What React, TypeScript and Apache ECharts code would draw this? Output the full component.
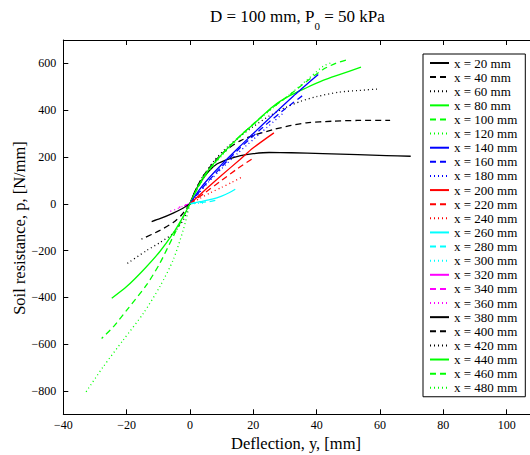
import React, { useEffect, useRef } from 'react';
import * as echarts from 'echarts';

// Depth labels (legend)
const depthLabels = [
  'x = 20 mm', 'x = 40 mm', 'x = 60 mm', 'x = 80 mm', 'x = 100 mm', 'x = 120 mm',
  'x = 140 mm', 'x = 160 mm', 'x = 180 mm', 'x = 200 mm', 'x = 220 mm', 'x = 240 mm',
  'x = 260 mm', 'x = 280 mm', 'x = 300 mm', 'x = 320 mm', 'x = 340 mm', 'x = 360 mm',
  'x = 380 mm', 'x = 400 mm', 'x = 420 mm', 'x = 440 mm', 'x = 460 mm', 'x = 480 mm',
];

// p-y curves: [deflection y (mm), soil resistance p (N/mm)]
const x20 = [[0, 0], [1.5, 50], [3.5, 96], [6, 140], [8.5, 170], [12.4, 192], [16, 206], [20, 214], [25, 219], [32, 218], [42, 214], [53, 210], [62, 206], [69.7, 203]];
const x40 = [[0, 0], [2, 65], [4, 115], [8, 185], [12, 235], [16, 270], [20, 292], [26.3, 317], [32, 335], [36.8, 346], [45, 353], [53, 356], [63.2, 356]];
const x60 = [[0, 0], [2, 65], [4, 115], [8, 190], [12, 245], [16, 290], [20, 330], [25, 375], [30, 410], [35, 438], [40, 458], [47, 477], [53, 484], [59.7, 491]];
const x80 = [[0, 0], [2, 60], [5, 130], [10, 210], [15.8, 289], [20, 340], [26.3, 417], [31.5, 462], [36.8, 496], [42, 527], [47.4, 553], [54, 584]];
const x100 = [[0, 0], [2, 55], [5, 125], [10, 210], [15, 280], [21, 353], [26, 410], [31.6, 467], [37, 525], [42.1, 575], [46, 600], [50, 617]];
const x120 = [[0, 0], [2, 55], [5, 122], [10, 205], [15, 276], [21, 350], [26, 408], [31.6, 468], [37, 530], [42.1, 588], [44.7, 603]];
const x140 = [[0, 0], [3, 60], [6, 110], [10, 168], [15.8, 246], [20, 300], [26.3, 381], [32.6, 460], [36, 500], [40.5, 553]];
const x160 = [[0, 0], [3, 52], [6, 100], [10, 158], [15, 228], [20, 290], [25, 350], [30, 405], [35.5, 462]];
const x180 = [[0, 0], [3, 48], [6, 95], [10, 150], [15, 215], [20, 275], [24.2, 325], [29.5, 388]];
const x200 = [[0, 0], [5, 62], [10, 122], [15.8, 189], [19.8, 237], [26.5, 303]];
const x220 = [[0, 0], [5, 50], [10, 100], [15, 150], [20.2, 197]];
const x240 = [[0, 0], [3, 22], [6.3, 46], [10, 70], [13, 90], [16.8, 117]];
const x260 = [[0, 0], [3.2, 9], [7, 20], [10, 33], [12.5, 48], [14.3, 62]];
const x280 = [[0, 0], [3, 5], [6, 9], [8, 14]];
const x300 = [[0, 0], [2.5, 2], [5, 4]];
const x320 = [[0, 0], [-1.5, -6]];
const x340 = [[0, 0], [-3.5, -15]];
const x360 = [[0, 0], [-2.5, -12], [-4.5, -24], [-6.8, -35]];
const x380 = [[0, 0], [-2.1, -18], [-5.3, -40], [-9.5, -64], [-12.1, -76]];
const x400 = [[0, 0], [-2.6, -47], [-5.3, -80], [-9.5, -114], [-15.3, -151]];
const x420 = [[0, 0], [-2.1, -69], [-5.3, -126], [-9.5, -166], [-13.7, -200], [-20, -257]];
const x440 = [[0, 0], [-2.1, -54], [-5.3, -126], [-9.5, -204], [-14.7, -283], [-20, -354], [-24.7, -404]];
const x460 = [[0, 0], [-5.3, -140], [-9.5, -254], [-13.7, -347], [-19.5, -447], [-24.2, -526], [-27.9, -576]];
const x480 = [[0, 0], [-2.1, -111], [-5.3, -240], [-9.5, -354], [-14.7, -468], [-21.1, -583], [-27.4, -697], [-32.8, -804]];

const curves = [x20, x40, x60, x80, x100, x120, x140, x160, x180, x200, x220, x240,
  x260, x280, x300, x320, x340, x360, x380, x400, x420, x440, x460, x480];

const yTicks = [-800, -600, -400, -200, 0, 200, 400, 600];

const palette = ['#000000', '#00ff00', '#0000ff', '#ff0000', '#00ffff', '#ff00ff', '#000000', '#00ff00'];
const dashStyles: any[] = ['solid', [6, 4], [1, 3]];

const FONT = "'Liberation Serif', 'Times New Roman', serif";

const fmt = (v: number) => String(v).replace('-', '\u2212');

export default function App() {
  const ref = useRef<HTMLDivElement>(null);

  useEffect(() => {
    if (!ref.current) return;
    const chart = echarts.init(ref.current, undefined, { renderer: 'svg' });

    const series = curves.map((data, i) => ({
      name: depthLabels[i],
      type: 'line',
      data,
      showSymbol: false,
      symbol: 'none',
      smooth: 0.25,
      lineStyle: {
        color: palette[Math.floor(i / 3)],
        type: dashStyles[i % 3],
        width: 1.3,
      },
      itemStyle: { color: palette[Math.floor(i / 3)] },
      emphasis: { disabled: true },
    }));

    const axisCommon = {
      type: 'value' as const,
      axisLine: { show: true, onZero: false, lineStyle: { color: '#000', width: 1 } },
      splitLine: { show: false },
    };

    chart.setOption({
      animation: false,
      backgroundColor: '#ffffff',
      title: {
        text: '{n|D = 100 mm, P}{s|0}{n| = 50 kPa}',
        left: 210,
        top: 2,
        padding: 0,
        textStyle: {
          fontWeight: 'normal',
          rich: {
            n: { fontSize: 17, fontFamily: FONT, color: '#000', fontWeight: 'normal' },
            s: { fontSize: 11, fontFamily: FONT, color: '#000', fontWeight: 'normal', padding: [18, 0, 0, 0] },
          },
        },
      },
      grid: { left: 63.3, top: 40, width: 506.7, height: 374.3 },
      legend: {
        orient: 'vertical',
        left: 423,
        top: 54,
        padding: [2, 8, 2, 6],
        itemWidth: 19,
        itemHeight: 14.13,
        itemGap: 0.12,
        borderColor: '#000',
        borderWidth: 1,
        backgroundColor: '#fff',
        itemStyle: { opacity: 0 },
        textStyle: { fontSize: 13, fontFamily: FONT, color: '#000', lineHeight: 14 },
        data: depthLabels,
      },
      xAxis: [
        {
          ...axisCommon,
          position: 'bottom',
          min: -40,
          max: 120,
          interval: 20,
          axisTick: { show: true, inside: true, length: 5, lineStyle: { color: '#000' } },
          axisLabel: {
            show: true,
            margin: 5,
            fontSize: 12,
            fontFamily: FONT,
            color: '#000',
            showMaxLabel: false,
            formatter: (v: number) => (v >= 120 ? '' : fmt(v)),
          },
        },
        {
          ...axisCommon,
          position: 'top',
          min: -40,
          max: 120,
          interval: 20,
          axisTick: { show: true, inside: true, length: 5, lineStyle: { color: '#000' } },
          axisLabel: { show: false },
        },
      ],
      yAxis: [
        {
          ...axisCommon,
          position: 'left',
          min: -900,
          max: 700,
          axisTick: { show: true, inside: true, length: 5, customValues: yTicks, lineStyle: { color: '#000' } },
          axisLabel: {
            show: true,
            margin: 7,
            fontSize: 12,
            fontFamily: FONT,
            color: '#000',
            customValues: yTicks,
            formatter: (v: number) => fmt(v),
          },
        },
        {
          ...axisCommon,
          position: 'right',
          min: -900,
          max: 700,
          axisTick: { show: true, inside: true, length: 5, customValues: yTicks, lineStyle: { color: '#000' } },
          axisLabel: { show: false },
        },
      ],
      graphic: [
        {
          type: 'text',
          x: 296,
          y: 443,
          style: {
            text: 'Deflection, y, [mm]',
            fontSize: 16.5,
            fontFamily: FONT,
            fill: '#000',
            align: 'center',
            verticalAlign: 'middle',
          },
        },
        {
          type: 'text',
          x: 19,
          y: 228,
          rotation: Math.PI / 2,
          style: {
            text: 'Soil resistance, p, [N/mm]',
            fontSize: 16.5,
            fontFamily: FONT,
            fill: '#000',
            align: 'center',
            verticalAlign: 'middle',
          },
        },
      ],
      series,
    });

    return () => chart.dispose();
  }, []);

  return (
    <div style={{ position: 'fixed', left: 0, top: 0, width: 530, height: 455, overflow: 'hidden', background: '#fff' }}>
      <div ref={ref} style={{ width: 580, height: 455 }} />
    </div>
  );
}
